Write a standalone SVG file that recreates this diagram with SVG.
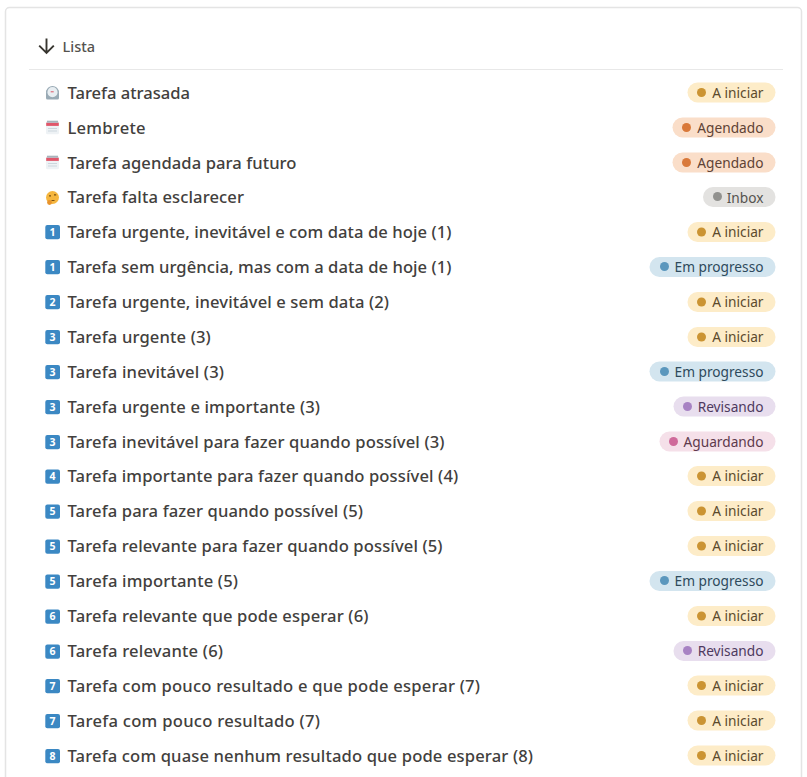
<svg xmlns="http://www.w3.org/2000/svg" width="807" height="777" viewBox="0 0 807 777">
<style>
.t{font-family:"Noto Sans",sans-serif;font-size:16.600px;font-weight:500;fill:#42403d}
.p{font-family:"Noto Sans",sans-serif;font-size:13.700px;text-anchor:end}
.k{fill:#3b88c3}
.n{font-family:"Noto Sans",sans-serif;font-size:10.500px;font-weight:700;fill:#fff;text-anchor:middle}
.ai rect{fill:#fdecc8}.ai circle{fill:#cb9433}.ai text{fill:#5c4a2c}
.ag rect{fill:#fadec9}.ag circle{fill:#d9793a}.ag text{fill:#5f4335}
.in rect{fill:#e3e2e0}.in circle{fill:#91918e}.in text{fill:#55534f}
.em rect{fill:#d3e5ef}.em circle{fill:#5b97bd}.em text{fill:#2e4a5c}
.re rect{fill:#e8deee}.re circle{fill:#a782c3}.re text{fill:#4e3a5e}
.au rect{fill:#f5e0e9}.au circle{fill:#cf6a9a}.au text{fill:#5e3a4c}
</style>
<defs>
<g id="cal"><rect x="-6.500" y="-6.500" width="13" height="13.300" rx="1.500" fill="#eef2f5"/><rect x="-6.300" y="-4.800" width="12.600" height="3.200" fill="#e0566a"/><rect x="-5.500" y="-6.800" width="11" height="2" fill="#a8b3bb"/><path d="M-4.500 1h9M-4.500 3.500h9" stroke="#ccd6dd" stroke-width="1"/></g>
<g id="clk"><rect x="-6.500" y="-3" width="13" height="9.500" rx="1.500" fill="#99aab5"/><circle r="5.700" cy="-.8" fill="#e8eef2" stroke="#99aab5" stroke-width="1.200"/><path d="M-1.800 -1.200h3" stroke="#dd5566"/></g>
<g id="thk"><circle r="6.500" fill="#f5b63f"/><path d="M-3.500 -1.600h2M1.500 -2.600h2.200" stroke="#7a5012" stroke-width="1.100"/><path d="M-1 3h3" stroke="#7a5012"/><circle cx="-3" cy="5" r="2.400" fill="#e8932c"/></g>
</defs>
<rect id="card" x="5.500" y="7.500" width="796" height="775" rx="4" fill="#fff" stroke="#e4e4e4" stroke-width="1.500"/>
<g id="header">
<path d="M46.500 38.500V53M39.200 45.700L46.500 53L53.800 45.700" fill="none" stroke="#37352f" stroke-width="1.900"/>
<text x="62.500" y="51.500" style="font-family:'Noto Sans',sans-serif;font-size:14.500px;font-weight:500;fill:#55534f">Lista</text>
<path d="M29 69.500H783" stroke="#e8e8e8" stroke-width="1.200"/>
</g>
<g id="r1"><use href="#clk" x="52.500" y="93"/><text class="t" x="67.500" y="98.500" textLength="122.500">Tarefa atrasada</text><g class="ai"><rect x="687.500" y="82.500" width="88" height="20" rx="10"/><circle cx="701.500" cy="92.500" r="4.500"/><text class="p" x="763.500" y="97.800">A iniciar</text></g></g>
<g id="r2"><use href="#cal" x="52.500" y="127.500"/><text class="t" x="67.500" y="133.500" textLength="78">Lembrete</text><g class="ag"><rect x="672.500" y="117.500" width="103" height="20" rx="10"/><circle cx="686.500" cy="127.500" r="4.500"/><text class="p" x="763.500" y="132.800">Agendado</text></g></g>
<g id="r3"><use href="#cal" x="52.500" y="162.500"/><text class="t" x="67.500" y="168.500" textLength="229">Tarefa agendada para futuro</text><g class="ag"><rect x="672.500" y="152.500" width="103" height="20" rx="10"/><circle cx="686.500" cy="162.500" r="4.500"/><text class="p" x="763.500" y="167.800">Agendado</text></g></g>
<g id="r4"><use href="#thk" x="52.500" y="197.500"/><text class="t" x="67.500" y="202.500" textLength="176.500">Tarefa falta esclarecer</text><g class="in"><rect x="703" y="187" width="72.500" height="20" rx="10"/><circle cx="717.500" cy="196.500" r="4.500"/><text class="p" x="763.500" y="202.800">Inbox</text></g></g>
<g id="r5"><rect class="k" x="45.300" y="225" width="14.700" height="14.300" rx="2"/><text class="n" x="52.600" y="235.800">1</text><text class="t" x="67.500" y="237.500" textLength="384">Tarefa urgente, inevitável e com data de hoje (1)</text><g class="ai"><rect x="687.500" y="222" width="88" height="20" rx="10"/><circle cx="701.500" cy="232" r="4.500"/><text class="p" x="763.500" y="237.300">A iniciar</text></g></g>
<g id="r6"><rect class="k" x="45.300" y="260" width="14.700" height="14.300" rx="2"/><text class="n" x="52.600" y="270.800">1</text><text class="t" x="67.500" y="272.500" textLength="384">Tarefa sem urgência, mas com a data de hoje (1)</text><g class="em"><rect x="649.500" y="257" width="126" height="20" rx="10"/><circle cx="664.500" cy="266.500" r="4.500"/><text class="p" x="763.500" y="272.300">Em progresso</text></g></g>
<g id="r7"><rect class="k" x="45.300" y="295" width="14.700" height="14.300" rx="2"/><text class="n" x="52.600" y="305.800">2</text><text class="t" x="67.500" y="307.500" textLength="321.500">Tarefa urgente, inevitável e sem data (2)</text><g class="ai"><rect x="687.500" y="292" width="88" height="20" rx="10"/><circle cx="701.500" cy="302" r="4.500"/><text class="p" x="763.500" y="307.300">A iniciar</text></g></g>
<g id="r8"><rect class="k" x="45.300" y="330" width="14.700" height="14.300" rx="2"/><text class="n" x="52.600" y="340.800">3</text><text class="t" x="67.500" y="342.500" textLength="143.300">Tarefa urgente (3)</text><g class="ai"><rect x="687.500" y="327" width="88" height="20" rx="10"/><circle cx="701.500" cy="337" r="4.500"/><text class="p" x="763.500" y="342.300">A iniciar</text></g></g>
<g id="r9"><rect class="k" x="45.300" y="365" width="14.700" height="14.300" rx="2"/><text class="n" x="52.600" y="375.800">3</text><text class="t" x="67.500" y="377.500" textLength="156.500">Tarefa inevitável (3)</text><g class="em"><rect x="649.500" y="361.500" width="126" height="20" rx="10"/><circle cx="664.500" cy="371.500" r="4.500"/><text class="p" x="763.500" y="377">Em progresso</text></g></g>
<g id="r10"><rect class="k" x="45.300" y="400" width="14.700" height="14.300" rx="2"/><text class="n" x="52.600" y="410.800">3</text><text class="t" x="67.500" y="412.500" textLength="252.500">Tarefa urgente e importante (3)</text><g class="re"><rect x="673.500" y="396.500" width="102" height="20" rx="10"/><circle cx="687.500" cy="406.500" r="4.500"/><text class="p" x="763.500" y="412">Revisando</text></g></g>
<g id="r11"><rect class="k" x="45.300" y="435" width="14.700" height="14.300" rx="2"/><text class="n" x="52.600" y="445.800">3</text><text class="t" x="67.500" y="447.500" textLength="377">Tarefa inevitável para fazer quando possível (3)</text><g class="au"><rect x="659.500" y="431.500" width="116" height="20" rx="10"/><circle cx="673.500" cy="441.500" r="4.500"/><text class="p" x="763.500" y="447">Aguardando</text></g></g>
<g id="r12"><rect class="k" x="45.300" y="469.500" width="14.700" height="14.300" rx="2"/><text class="n" x="52.600" y="480.300">4</text><text class="t" x="67.500" y="482" textLength="390.700">Tarefa importante para fazer quando possível (4)</text><g class="ai"><rect x="687.500" y="466" width="88" height="20" rx="10"/><circle cx="701.500" cy="476" r="4.500"/><text class="p" x="763.500" y="481.300">A iniciar</text></g></g>
<g id="r13"><rect class="k" x="45.300" y="504.500" width="14.700" height="14.300" rx="2"/><text class="n" x="52.600" y="515.300">5</text><text class="t" x="67.500" y="517" textLength="295.500">Tarefa para fazer quando possível (5)</text><g class="ai"><rect x="687.500" y="501" width="88" height="20" rx="10"/><circle cx="701.500" cy="511" r="4.500"/><text class="p" x="763.500" y="516.300">A iniciar</text></g></g>
<g id="r14"><rect class="k" x="45.300" y="539.500" width="14.700" height="14.300" rx="2"/><text class="n" x="52.600" y="550.300">5</text><text class="t" x="67.500" y="552" textLength="375">Tarefa relevante para fazer quando possível (5)</text><g class="ai"><rect x="687.500" y="536" width="88" height="20" rx="10"/><circle cx="701.500" cy="546" r="4.500"/><text class="p" x="763.500" y="551.300">A iniciar</text></g></g>
<g id="r15"><rect class="k" x="45.300" y="574.500" width="14.700" height="14.300" rx="2"/><text class="n" x="52.600" y="585.300">5</text><text class="t" x="67.500" y="587" textLength="170.500">Tarefa importante (5)</text><g class="em"><rect x="649.500" y="571" width="126" height="20" rx="10"/><circle cx="664.500" cy="580.500" r="4.500"/><text class="p" x="763.500" y="586.300">Em progresso</text></g></g>
<g id="r16"><rect class="k" x="45.300" y="609.500" width="14.700" height="14.300" rx="2"/><text class="n" x="52.600" y="620.300">6</text><text class="t" x="67.500" y="622" textLength="301">Tarefa relevante que pode esperar (6)</text><g class="ai"><rect x="687.500" y="606" width="88" height="20" rx="10"/><circle cx="701.500" cy="616" r="4.500"/><text class="p" x="763.500" y="621.300">A iniciar</text></g></g>
<g id="r17"><rect class="k" x="45.300" y="644.500" width="14.700" height="14.300" rx="2"/><text class="n" x="52.600" y="655.300">6</text><text class="t" x="67.500" y="657" textLength="155.500">Tarefa relevante (6)</text><g class="re"><rect x="673.500" y="641" width="102" height="20" rx="10"/><circle cx="687.500" cy="650.500" r="4.500"/><text class="p" x="763.500" y="656.300">Revisando</text></g></g>
<g id="r18"><rect class="k" x="45.300" y="679" width="14.700" height="14.300" rx="2"/><text class="n" x="52.600" y="689.800">7</text><text class="t" x="67.500" y="691.500" textLength="412.500">Tarefa com pouco resultado e que pode esperar (7)</text><g class="ai"><rect x="687.500" y="675.500" width="88" height="20" rx="10"/><circle cx="701.500" cy="685.500" r="4.500"/><text class="p" x="763.500" y="691">A iniciar</text></g></g>
<g id="r19"><rect class="k" x="45.300" y="714" width="14.700" height="14.300" rx="2"/><text class="n" x="52.600" y="724.800">7</text><text class="t" x="67.500" y="726.500" textLength="252.500">Tarefa com pouco resultado (7)</text><g class="ai"><rect x="687.500" y="710.500" width="88" height="20" rx="10"/><circle cx="701.500" cy="720.500" r="4.500"/><text class="p" x="763.500" y="726">A iniciar</text></g></g>
<g id="r20"><rect class="k" x="45.300" y="749" width="14.700" height="14.300" rx="2"/><text class="n" x="52.600" y="759.800">8</text><text class="t" x="67.500" y="761.500" textLength="465.500">Tarefa com quase nenhum resultado que pode esperar (8)</text><g class="ai"><rect x="687.500" y="745.500" width="88" height="20" rx="10"/><circle cx="701.500" cy="755.500" r="4.500"/><text class="p" x="763.500" y="761">A iniciar</text></g></g>
</svg>
